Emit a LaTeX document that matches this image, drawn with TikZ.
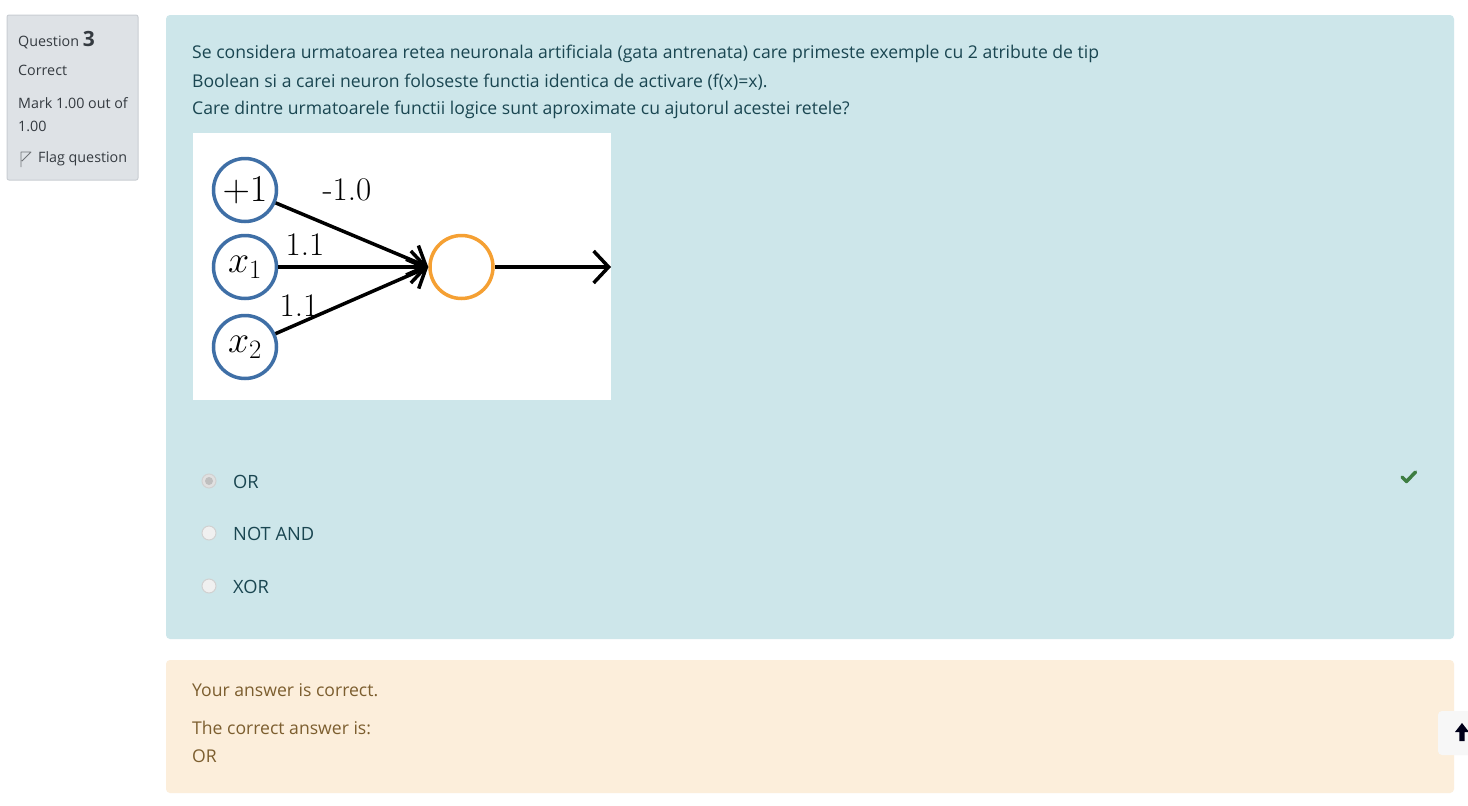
\RequirePackage{fix-cm}
\documentclass[tikz,border=0pt]{standalone}
\usepackage{fontspec}
\newfontfamily\ui{Open Sans}
\usetikzlibrary{arrows.meta}
\definecolor{qbg}{HTML}{CDE6EA}
\definecolor{qtxt}{HTML}{1A4651}
\definecolor{fbbg}{HTML}{FCEEDB}
\definecolor{fbtxt}{HTML}{7C5E2F}
\definecolor{infobg}{HTML}{DEE2E6}
\definecolor{infobd}{HTML}{C9CED3}
\definecolor{infotxt}{HTML}{343A40}
\definecolor{nblue}{HTML}{3F6FA6}
\definecolor{norange}{HTML}{F5A033}
\definecolor{okgreen}{HTML}{3D7D41}
\tikzset{
  x=1pt, y=-1pt,
  uitext/.style={font=\ui\fontsize{17.6}{20}\selectfont, anchor=west, inner sep=0pt},
  qt/.style={uitext, text=qtxt},
  optt/.style={qt, font=\ui\fontsize{18.3}{20}\selectfont},
  fbt/.style={uitext, text=fbtxt},
  infot/.style={font=\ui\fontsize{14.3}{16}\selectfont, anchor=west, inner sep=0pt, text=infotxt},
  incirc/.style={circle, draw=nblue, line width=3.5pt, minimum size=63pt, inner sep=0pt, fill=white,
    font=\fontsize{38}{42}\selectfont},
  outcirc/.style={circle, draw=norange, line width=3.5pt, minimum size=63pt, inner sep=0pt, fill=white},
  conn/.style={line width=3.5pt, -{Straight Barb[length=15pt,width=32pt,line width=3.5pt]}},
  wlabel/.style={font=\fontsize{33}{38}\selectfont, inner sep=0pt},
  radio/.style={circle, draw=#1, line width=1pt, minimum size=14pt, inner sep=0pt},
}
\begin{document}
\begin{tikzpicture}
\useasboundingbox (0,0) rectangle (1468,806);
\fill[white] (0,0) rectangle (1468,806);
% info box
\draw[fill=infobg, draw=infobd, line width=1pt, rounded corners=2pt] (7,15) rectangle (138,180);
\node[infot] (qn) at (18,40) {Question \fontsize{21}{22}\selectfont\bfseries 3};
\node[infot] (st) at (18,70) {Correct};
\node[infot] (mk) at (18,103) {Mark 1.00 out of};
\node[infot] (mk2) at (18,126) {1.00};
\draw[infotxt!70, line width=0.8pt, line join=round] (21,167) -- (21,152) -- (31,152) -- (22,161);
\node[infot] (fl) at (38,159) {Flag question};
% question box
\fill[qbg, rounded corners=4pt] (166,15) rectangle (1454,639);
\node[qt] (l1) at (192,54) {Se considera urmatoarea retea neuronala artificiala (gata antrenata) care primeste exemple cu 2 atribute de tip};
\node[qt] (l2) at (192,82) {Boolean si a carei neuron foloseste functia identica de activare (f(x)=x).};
\node[qt] (l3) at (192,110) {Care dintre urmatoarele functii logice sunt aproximate cu ajutorul acestei retele?};
% image
\fill[white] (193,133) rectangle (611,400);
\node[incirc] (b) at (245,190) {$+1$};
\node[incirc] (x1) at (245,267) {$x_1$};
\node[incirc] (x2) at (245,347) {$x_2$};
\node[outcirc] (o) at (461.5,267) {};
\coordinate (out) at (611,267);
\draw[conn] (b) -- (o.west);
\draw[conn] (x1) -- (o.west);
\draw[conn] (x2) -- (o.west);
\draw[conn] (o) -- (out);
\node[wlabel] (wb) at (347,190) {-1.0};
\node[wlabel] (w1) at (305,245) {1.1};
\node[wlabel] (w2) at (299,306) {1.1};
% options
\node[radio=black!18, fill=black!12] (r1) at (209,481) {};
\fill[black!25] (r1.center) circle (4pt);
\node[radio=black!18, fill=black!6] (r2) at (209,533) {};
\node[radio=black!18, fill=black!6] (r3) at (209,586) {};
\node[optt] (o1) at (233,482) {OR};
\node[optt] (o2) at (233,534) {NOT AND};
\node[optt] (o3) at (233,587) {XOR};
\draw[okgreen, line width=3.5pt, line cap=round, line join=round] (1402,477) -- (1406.5,481.5) -- (1415.5,472);
% feedback box
\fill[fbbg, rounded corners=4pt] (166,660) rectangle (1454,793);
\node[fbt] (f1) at (192,690) {Your answer is correct.};
\node[fbt] (f2) at (192,728) {The correct answer is:};
\node[fbt] (f3) at (192,756) {OR};
% back to top
\fill[black!3, rounded corners=4pt] (1438,711) rectangle (1480,755);
\fill[black!90!blue] (1462,723) -- (1469,732) -- (1464.7,732) -- (1464.7,741) -- (1459.3,741) -- (1459.3,732) -- (1455,732) -- cycle;
\end{tikzpicture}
\end{document}
